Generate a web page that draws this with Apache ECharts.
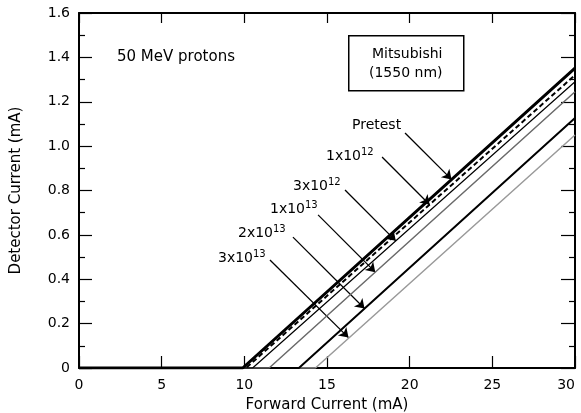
<!DOCTYPE html>
<html>
<head>
<meta charset="utf-8">
<script src="https://cdn.jsdelivr.net/npm/echarts@6/dist/echarts.min.js"></script>
<style>
  html, body { margin: 0; padding: 0; background: #fff; }
  #chart { width: 581px; height: 413px; }
</style>
</head>
<body>
<div id="chart"></div>
<script>
// Detector current vs forward current for the Mitsubishi 1550 nm laser,
// before and after 50 MeV proton irradiation at several fluences.
const xTicks = [0, 5, 10, 15, 20, 25, 30];
const yTicks = [0, 0.2, 0.4, 0.6, 0.8, 1.0, 1.2, 1.4, 1.6];

// [forward current (mA), detector current (mA)]
const pretest = [[0, 0], [9.9, 0], [30, 1.352]];
const fluence1e12 = [[0, 0], [10.1, 0], [30, 1.32]];
const fluence3e12 = [[0, 0], [10.5, 0], [30, 1.29]];
const fluence1e13 = [[0, 0], [11.5, 0], [30, 1.245]];
const fluence2e13 = [[0, 0], [13.3, 0], [30, 1.127]];
const fluence3e13 = [[0, 0], [14.3, 0], [30, 1.05]];

// Label arrows: tail and head in axis units
const arrowTail = [[19.72, 1.059], [18.33, 0.951], [16.09, 0.802], [14.46, 0.690], [12.94, 0.590], [11.55, 0.487]];
const arrowHead = [[22.53, 0.850], [21.21, 0.736], [19.16, 0.573], [17.92, 0.432], [17.27, 0.268], [16.30, 0.137]];

const FONT = '"DejaVu Sans", sans-serif';

const styles = [
  { color: '#000', width: 3, type: 'solid' },
  { color: '#000', width: 2, type: [5, 3] },
  { color: '#000', width: 1.2, type: 'solid' },
  { color: '#6a6a6a', width: 1.5, type: 'solid' },
  { color: '#000', width: 2, type: 'solid' },
  { color: '#9a9a9a', width: 1.5, type: 'solid' }
];
const dataSets = [pretest, fluence1e12, fluence3e12, fluence1e13, fluence2e13, fluence3e13];
const names = ['Pretest', '1x10^12', '3x10^12', '1x10^13', '2x10^13', '3x10^13'];

const series = dataSets.map((d, i) => ({
  name: names[i],
  type: 'line',
  data: d,
  symbol: 'none',
  z: 10 - i,
  itemStyle: { color: styles[i].color },
  lineStyle: styles[i],
  markLine: {
    silent: true,
    symbol: ['none', 'arrow'],
    symbolSize: 9,
    label: { show: false },
    itemStyle: { color: '#000' },
    lineStyle: { color: '#000', width: 1.3, type: 'solid' },
    emphasis: { disabled: true },
    data: [[{ coord: arrowTail[i] }, { coord: arrowHead[i] }]]
  }
}));

const chart = echarts.init(document.getElementById('chart'));

const tickLabel = { color: '#000', fontFamily: FONT, fontSize: 14 };

function fluenceText(left, top, mant, exp) {
  return {
    type: 'text', left: left, top: top,
    style: {
      text: '{b|' + mant + '}{s|' + exp + '}',
      rich: {
        b: { fontFamily: FONT, fontSize: 14, fill: '#000', verticalAlign: 'bottom', lineHeight: 16 },
        s: { fontFamily: FONT, fontSize: 10, fill: '#000', verticalAlign: 'top', lineHeight: 16, padding: [0, 0, 6, 0] }
      }
    }
  };
}

chart.setOption({
  backgroundColor: '#fff',
  animation: false,
  grid: { left: 79, right: 6, top: 13, bottom: 45, containLabel: false, outerBoundsMode: 'none' },
  xAxis: [{
    type: 'value', min: 0, max: 30, interval: 5, position: 'bottom',
    name: 'Forward Current (mA)', nameLocation: 'middle', nameGap: 30,
    nameTextStyle: { color: '#000', fontFamily: FONT, fontSize: 15 },
    axisLine: { show: true, onZero: false, lineStyle: { color: '#000', width: 2 } },
    axisTick: { show: true, inside: true, length: 12, lineStyle: { color: '#000', width: 1.2 } },
    axisLabel: Object.assign({ margin: 10, alignMaxLabel: 'right' }, tickLabel),
    splitLine: { show: false }
  }, {
    type: 'value', min: 0, max: 30, interval: 5, position: 'top',
    axisLine: { show: true, onZero: false, lineStyle: { color: '#000', width: 2 } },
    axisTick: { show: true, inside: true, length: 10, lineStyle: { color: '#000', width: 1.2 } },
    axisLabel: { show: false },
    splitLine: { show: false }
  }],
  yAxis: [{
    type: 'value', min: 0, max: 1.6, interval: 0.2, position: 'left',
    name: 'Detector Current (mA)', nameLocation: 'middle', nameGap: 55, nameRotate: 90,
    nameTextStyle: { color: '#000', fontFamily: FONT, fontSize: 15 },
    axisLine: { show: true, onZero: false, lineStyle: { color: '#000', width: 2 } },
    axisTick: { show: true, inside: true, length: 13, lineStyle: { color: '#000', width: 1.2 } },
    minorTick: { show: true, splitNumber: 2, length: 6, lineStyle: { color: '#000', width: 1.2 } },
    axisLabel: Object.assign({ margin: 9, formatter: v => v === 0 ? '0' : v.toFixed(1) }, tickLabel),
    splitLine: { show: false }
  }, {
    type: 'value', min: 0, max: 1.6, interval: 0.2, position: 'right',
    axisLine: { show: true, onZero: false, lineStyle: { color: '#000', width: 2 } },
    axisTick: { show: true, inside: true, length: 14, lineStyle: { color: '#000', width: 1.2 } },
    minorTick: { show: true, splitNumber: 2, length: 6, lineStyle: { color: '#000', width: 1.2 } },
    axisLabel: { show: false },
    splitLine: { show: false }
  }],
  series: series,
  graphic: [
    { type: 'text', left: 117, top: 50,
      style: { text: '50 MeV protons', fontFamily: FONT, fontSize: 15, fill: '#000' } },
    { type: 'rect', left: 348, top: 35, shape: { width: 115, height: 55 },
      style: { fill: '#fff', stroke: '#000', lineWidth: 1.5 } },
    { type: 'text', left: 372, top: 47,
      style: { text: 'Mitsubishi', fontFamily: FONT, fontSize: 14, fill: '#000' } },
    { type: 'text', left: 369, top: 66,
      style: { text: '(1550 nm)', fontFamily: FONT, fontSize: 14, fill: '#000' } },
    { type: 'text', left: 352, top: 118,
      style: { text: 'Pretest', fontFamily: FONT, fontSize: 14, fill: '#000' } },
    fluenceText(326, 147, '1x10', '12'),
    fluenceText(293, 177, '3x10', '12'),
    fluenceText(270, 200, '1x10', '13'),
    fluenceText(238, 224, '2x10', '13'),
    fluenceText(218, 249, '3x10', '13')
  ]
});
</script>
</body>
</html>
